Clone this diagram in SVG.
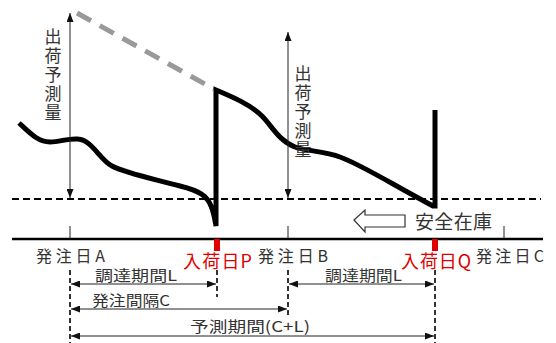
<svg xmlns="http://www.w3.org/2000/svg" width="556" height="343" viewBox="0 0 556 343">
<defs>
<marker id="arr" viewBox="0 0 9 7" refX="9" refY="3.5" markerWidth="9" markerHeight="7" markerUnits="userSpaceOnUse" orient="auto-start-reverse">
<path d="M0,0 L9,3.5 L0,7 z" fill="#111"/>
</marker>
<style>
text{font-family:"Noto Sans CJK JP","Noto Sans",sans-serif;fill:#333}
.lbl{font-size:16px}
.red{font-size:18px;fill:#e00000}
.dim{font-size:15px}
.vt{font-size:17px;writing-mode:vertical-rl;letter-spacing:2px}
.thin{stroke:#222;stroke-width:1;fill:none}
.dv{stroke:#333;stroke-width:2;stroke-dasharray:5 3;fill:none}
</style>
</defs>
<rect width="556" height="343" fill="#fff"/>
<g id="axes">
<line x1="12" y1="239" x2="543" y2="239" stroke="#000" stroke-width="2.5"/>
<line x1="12" y1="199" x2="541" y2="199" stroke="#000" stroke-width="2" stroke-dasharray="7 4"/>
<line class="thin" x1="70" y1="226" x2="70" y2="239"/>
<line class="thin" x1="288" y1="226" x2="288" y2="239"/>
<line class="thin" x1="504" y1="226" x2="504" y2="239"/>
<rect x="214" y="239" width="6" height="12" fill="#e00000"/>
<rect x="432" y="239" width="6" height="12" fill="#e00000"/>
</g>
<g id="forecast-dash">
<line x1="77" y1="13" x2="214" y2="89" stroke="#999" stroke-width="5" stroke-dasharray="16 10"/>
</g>
<g id="inventory-curve">
<path d="M19,123 C30,133 38,142 50,142 C60,142 68,138 78,139 C92,140 100,160 112,166 C125,173 150,178 180,186 C200,191 207,196 211,206 C214,213 215,220 216,226 L216,90 C230,96 250,104 262,116 C272,126 278,140 295,147 C305,151 325,151 340,157 C360,164 390,183 433,206 L435,206 L435,110" fill="none" stroke="#000" stroke-width="5" stroke-linejoin="miter"/>
</g>
<g id="connectors">
<line class="thin" x1="70" y1="13" x2="70" y2="198" marker-start="url(#arr)" marker-end="url(#arr)"/>
<line class="thin" x1="288" y1="32" x2="288" y2="198" marker-start="url(#arr)" marker-end="url(#arr)"/>
<line class="dv" x1="70" y1="270" x2="70" y2="343"/>
<line class="dv" x1="217" y1="270" x2="217" y2="297"/>
<line class="dv" x1="288" y1="270" x2="288" y2="317"/>
<line class="dv" x1="435" y1="270" x2="435" y2="343"/>
<line class="thin" x1="71" y1="284" x2="216" y2="284" marker-start="url(#arr)" marker-end="url(#arr)"/>
<line class="thin" x1="71" y1="309" x2="287" y2="309" marker-start="url(#arr)" marker-end="url(#arr)"/>
<line class="thin" x1="71" y1="336" x2="434" y2="336" marker-start="url(#arr)" marker-end="url(#arr)"/>
<line class="thin" x1="289" y1="284" x2="434" y2="284" marker-start="url(#arr)" marker-end="url(#arr)"/>
</g>
<g id="label-forecast-1">
<text class="vt" x="53" y="28">出荷予測量</text>
</g>
<g id="label-forecast-2">
<text class="vt" x="303" y="65">出荷予測量</text>
</g>
<g id="safety-stock">
<path d="M354,220 L365,210 L365,215 L405,215 L405,227 L365,227 L365,232 z" fill="#fff" stroke="#333" stroke-width="1.2"/>
<text x="415" y="229" style="font-size:19px" textLength="77" lengthAdjust="spacing">安全在庫</text>
</g>
<g id="dates">
<text class="lbl" x="36" y="262" textLength="69" lengthAdjust="spacing">発注日A</text>
<text class="red" x="183" y="268" textLength="69" lengthAdjust="spacing">入荷日P</text>
<text class="lbl" x="258" y="262" textLength="70" lengthAdjust="spacing">発注日B</text>
<text class="red" x="401" y="268" textLength="70" lengthAdjust="spacing">入荷日Q</text>
<text class="lbl" x="476" y="262" textLength="68" lengthAdjust="spacing">発注日C</text>
</g>
<g id="periods">
<text class="dim" x="95" y="281" textLength="82" lengthAdjust="spacingAndGlyphs">調達期間L</text>
<text class="dim" x="92" y="306" textLength="78" lengthAdjust="spacingAndGlyphs">発注間隔C</text>
<text class="dim" x="190" y="332" textLength="120" lengthAdjust="spacingAndGlyphs">予測期間(C+L)</text>
<text class="dim" x="325" y="281" textLength="77" lengthAdjust="spacingAndGlyphs">調達期間L</text>
</g>
</svg>
